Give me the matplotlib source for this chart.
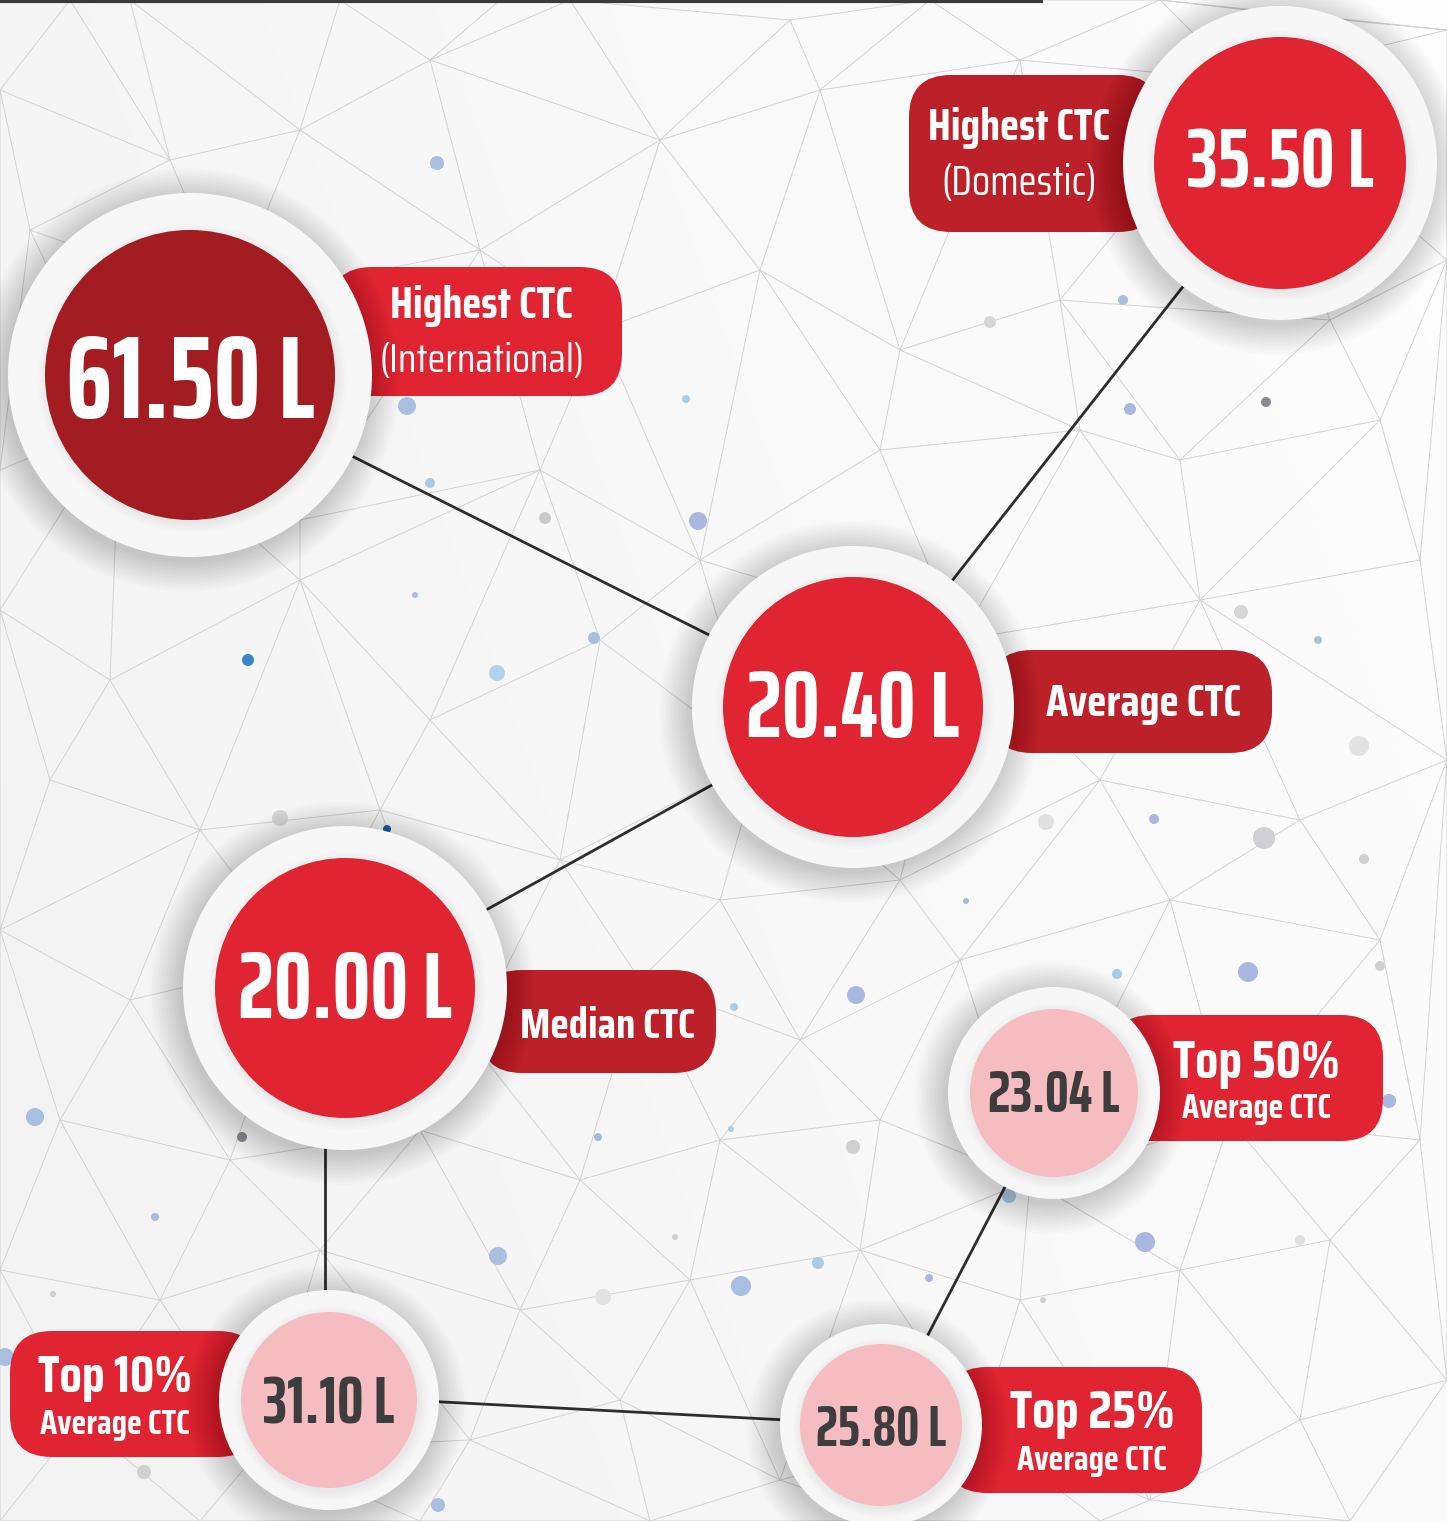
import matplotlib
matplotlib.use("Agg")
import matplotlib.pyplot as plt
import matplotlib.patches as mpatches
import matplotlib.tri as mtri
import numpy as np
from matplotlib import font_manager as fm

# ---------------- data ----------------
values = [61.50, 35.50, 20.40, 20.00, 23.04, 31.10, 25.80]
titles = ["Highest CTC", "Highest CTC", "Average CTC", "Median CTC",
          "Top 50%", "Top 10%", "Top 25%"]
subtitles = ["(International)", "(Domestic)", "", "",
             "Average CTC", "Average CTC", "Average CTC"]

# ---------------- layout (pixels) ----------------
centers = [(190, 375), (1280, 163), (853, 707), (345, 988),
           (1054, 1093), (329, 1400), (881, 1425)]
ring_r = [182, 157, 161, 162, 106, 110, 101]
inner_r = [145, 126, 130, 130, 84, 88, 81]
inner_col = ["#a31c21", "#e02431", "#e02431", "#e02431",
             "#f5bcc1", "#f5bcc1", "#f5bcc1"]
value_col = ["white"] * 4 + ["#3d3d3d"] * 3
# connector lines between nodes (end points)
link_pts = [((190, 375), (853, 707)), ((1280, 163), (853, 707)),
            ((853, 707), (345, 988)), ((325, 988), (325, 1400)),
            ((329, 1396), (881, 1425)), ((1054, 1093), (881, 1425))]
# value text: baseline y, cap height, max width
value_txt = [(418, 83, 256), (188, 60, 210), (737, 67, 225), (1018, 67, 226),
             (1112, 42, 135), (1424, 47, 135), (1446, 41, 132)]
# label boxes: x0, y0, x1, y1, colour
boxes = [(330, 267, 622, 396, "#e02431"), (909, 75, 1160, 232, "#bc2028"),
         (990, 650, 1272, 753, "#bc2028"), (480, 970, 716, 1073, "#bc2028"),
         (1110, 1015, 1383, 1141, "#e02431"), (10, 1331, 260, 1457, "#e02431"),
         (945, 1367, 1202, 1493, "#e02431")]
# title text: x centre, baseline, cap, width
title_txt = [(481, 318, 32, 183), (1019, 140, 33, 182), (1144, 716, 33, 195),
             (607, 1038, 35, 175), (1256, 1078, 41, 167), (115, 1392, 40, 154),
             (1092, 1428, 40, 165)]
sub_txt = [(482, 372, 29, 205), (1019, 195, 31, 155), None, None,
           (1256, 1118, 25, 149), (115, 1434, 25, 150), (1092, 1470, 25, 150)]

# background decoration
mesh_pts = [(70, 0), (130, 0), (340, 0), (500, 0), (570, 0), (790, 20), (930, 0), (1160, 0), (1290, 15), (1447, 30),
            (0, 90), (170, 160), (300, 130), (430, 60), (660, 140), (820, 90), (1020, 60), (1240, 80),
            (30, 230), (230, 300), (480, 250), (600, 330), (760, 270), (900, 350), (1060, 300), (1330, 320), (1447, 260),
            (0, 470), (120, 420), (300, 520), (540, 470), (700, 560), (880, 450), (1080, 430), (1180, 460), (1380, 420),
            (0, 610), (110, 680), (300, 580), (430, 720), (600, 640), (760, 760), (960, 640), (1200, 600), (1420, 560),
            (50, 780), (200, 830), (380, 810), (560, 860), (720, 900), (900, 880), (1100, 780), (1300, 820), (1447, 760),
            (0, 930), (130, 1000), (300, 960), (470, 1040), (640, 980), (800, 1040), (960, 960), (1170, 900), (1380, 940),
            (60, 1120), (230, 1160), (420, 1130), (580, 1180), (720, 1140), (880, 1120), (1030, 1180), (1230, 1120), (1420, 1140),
            (0, 1270), (160, 1300), (320, 1250), (520, 1310), (690, 1280), (860, 1250), (1020, 1300), (1180, 1270), (1330, 1240),
            (80, 1420), (260, 1450), (470, 1440), (620, 1400), (780, 1480), (980, 1430), (1150, 1500), (1300, 1420), (1447, 1380),
            (0, 1521), (200, 1521), (420, 1521), (650, 1521), (900, 1521), (1100, 1521), (1350, 1521)]
dots = [(437, 163, 7, "#a9bfe0"), (407, 406, 9, "#a9bfe0"), (430, 483, 5, "#a9cbe6"), (686, 399, 4, "#a9cbe6"),
        (545, 518, 6, "#c9c9cc"), (698, 521, 9, "#a9b8e0"), (594, 638, 6, "#a9bfe0"), (415, 595, 3, "#a9bfe0"),
        (248, 660, 6, "#3a86c8"), (497, 673, 8, "#b5d2ec"), (387, 829, 4, "#1f5fa0"), (280, 818, 8, "#d6d6d6"),
        (990, 322, 6, "#d6d6d6"), (1123, 300, 5, "#a9bfe0"), (1130, 409, 6, "#a9b8e0"), (1266, 402, 5, "#8a8a90"),
        (1241, 612, 7, "#d6d6d6"), (1318, 640, 4, "#a9bfe0"), (1359, 746, 10, "#e2e2e2"), (1154, 819, 5, "#a9b8e0"),
        (1264, 838, 11, "#cfcfd4"), (1046, 822, 8, "#e0e0e0"), (1364, 859, 5, "#d0d0d0"), (966, 901, 3, "#a9b8e0"),
        (1117, 974, 5, "#a9cbe6"), (1248, 972, 10, "#a9b8e0"), (1380, 966, 5, "#d0d0d0"), (856, 995, 9, "#a9b8e0"),
        (734, 1007, 4, "#a9cbe6"), (35, 1117, 9, "#a9bfe0"), (242, 1137, 5, "#8a8a90"), (598, 1137, 4, "#a9b8e0"),
        (731, 1129, 3, "#a9cbe6"), (853, 1147, 7, "#d0d0d0"), (1389, 1101, 7, "#a9b8e0"), (1009, 1196, 7, "#a9cbe6"),
        (1145, 1242, 10, "#a9b8e0"), (1300, 1240, 5, "#e0e0e0"), (155, 1217, 4, "#a9b8e0"), (498, 1256, 9, "#a9bfe0"),
        (741, 1286, 10, "#a9bfe0"), (818, 1263, 6, "#a9cbe6"), (929, 1278, 4, "#a9b8e0"), (675, 1237, 3, "#d0d0d0"),
        (603, 1297, 8, "#e2e2e2"), (1043, 1300, 3, "#d0d0d0"), (144, 1472, 7, "#d0d0d0"), (438, 1505, 7, "#a9bfe0"),
        (53, 1294, 3, "#d0d0d0"), (5, 1357, 9, "#a9bfe0")]

# ---------------- fonts ----------------
names = {f.name for f in fm.fontManager.ttflist}


def pick(cands):
    for c in cands:
        if c in names:
            return c
    return "DejaVu Sans"


value_font = pick(["Saira ExtraCondensed", "Saira Condensed", "Roboto Condensed"])
label_font = pick(["Saira Condensed", "Saira SemiCondensed", "Saira ExtraCondensed", "Roboto Condensed"])

fig = plt.figure(figsize=(14.47, 15.21), dpi=100)
ax = fig.add_axes([0, 0, 1, 1])
ax.set_xlim(0, 1447)
ax.set_ylim(1521, 0)
ax.axis("off")
renderer = fig.canvas.get_renderer()

# soft background shading
gx, gy = np.meshgrid(np.linspace(0, 1, 60), np.linspace(0, 1, 60))
shade = 0.955 + 0.04 * np.clip(gx * 0.8 - gy * 0.3 + 0.2, 0, 1)
ax.imshow(np.dstack([shade] * 3), extent=(0, 1447, 1521, 0), zorder=0, aspect="auto",
          interpolation="bicubic")

# background mesh + dots
tri = mtri.Triangulation([p[0] for p in mesh_pts], [p[1] for p in mesh_pts])
ax.triplot(tri, color="#d2d2d2", lw=0.7, zorder=1)
for x, y, r, c in dots:
    ax.add_patch(mpatches.Circle((x, y), r, color=c, zorder=2, lw=0))

# top rule
ax.plot([0, 1043], [1, 1], color="#3a3a3a", lw=3, zorder=3, solid_capstyle="butt")

# connector lines
for p, q in link_pts:
    ax.plot([p[0], q[0]], [p[1], q[1]], color="#2e2e2e", lw=2, zorder=4)

# label boxes
for x0, y0, x1, y1, c in boxes:
    ax.add_patch(mpatches.FancyBboxPatch((x0, y0), x1 - x0, y1 - y0,
                 boxstyle="round,pad=0,rounding_size=42", fc=c, ec="none", zorder=5))


def fit_text(x, y, s, cap, width, family, **kw):
    t = ax.text(x, y, s, fontsize=cap * 1.02, ha="center", va="baseline", zorder=10,
                family=family, **kw)
    w = t.get_window_extent(renderer).width
    if w > width:
        t.set_fontsize(t.get_fontsize() * width / w)
    return t


for i, v in enumerate(values):
    cx, cy = centers[i]
    # soft shadow around ring
    for k in range(16):
        ax.add_patch(mpatches.Circle((cx - 3, cy + 5), ring_r[i] + 2 * k, color="black",
                                     alpha=0.010, lw=0, zorder=6))
    ax.add_patch(mpatches.Circle((cx, cy), ring_r[i], fc="#f7f7f7", ec="none", zorder=7))
    for k in range(5):
        ax.add_patch(mpatches.Circle((cx + 2, cy + 3), inner_r[i] + 1 + 2 * k, color="black",
                                     alpha=0.012, lw=0, zorder=7.5))
    ax.add_patch(mpatches.Circle((cx, cy), inner_r[i], fc=inner_col[i], ec="none", zorder=8))
    by, cap, wd = value_txt[i]
    fit_text(cx, by, f"{v:.2f} L", cap, wd, value_font, color=value_col[i], fontweight="bold")

    tx, ty, tcap, tw = title_txt[i]
    fit_text(tx, ty, titles[i], tcap, tw, label_font, color="white", fontweight="bold")
    if sub_txt[i] is not None:
        sx, sy, scap, sw = sub_txt[i]
        bold = "bold" if subtitles[i].startswith("Average") else "normal"
        fit_text(sx, sy, subtitles[i], scap, sw, label_font, color="white", fontweight=bold)

fig.savefig("out.png", dpi=100)
